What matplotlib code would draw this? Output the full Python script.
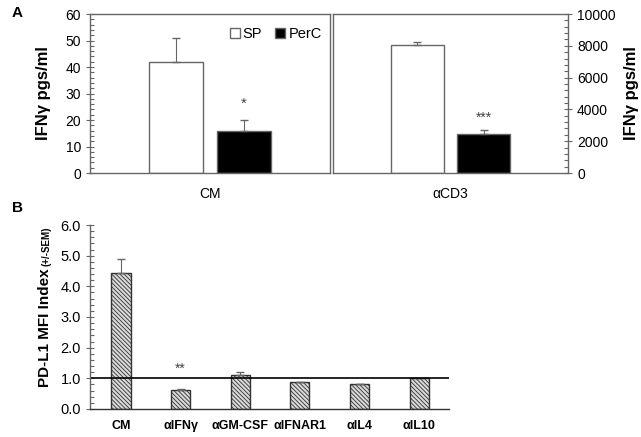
import numpy as np
import matplotlib.pyplot as plt
from matplotlib.patches import Patch
from matplotlib.ticker import MultipleLocator

plt.rcParams['font.family'] = ['Liberation Sans', 'DejaVu Sans']
plt.rcParams['hatch.linewidth'] = 0.6

# Panel A data
groups = ['SP', 'PerC']
cm_vals = [42, 16]
cm_err = [9, 4]
cd3_vals = [8050, 2450]
cd3_err = [200, 250]

# Panel B data
b_labels = ['CM', 'αIFNγ', 'αGM-CSF', 'αIFNAR1', 'αIL4', 'αIL10']
b_vals = [4.42, 0.62, 1.1, 0.88, 0.83, 1.02]
b_err = [0.48, 0.03, 0.12, 0.0, 0.0, 0.0]

grey = '#666666'
fig = plt.figure(figsize=(6.41, 4.37), dpi=100)

def style_axis(ax, side='left'):
    for s in ax.spines.values():
        s.set_color(grey)
        s.set_linewidth(1.0)
    ax.tick_params(axis='y', which='major', direction='inout', length=6, color=grey,
                   labelsize=10, width=0.8)
    ax.tick_params(axis='y', which='minor', direction='in', length=3, color=grey, width=0.8)
    ax.tick_params(axis='x', length=0, labelsize=10, pad=10)
    if side == 'right':
        ax.yaxis.tick_right()
        ax.yaxis.set_label_position('right')
        ax.yaxis.set_ticks_position('right')

x = np.array([-0.17, 0.17])
w = 0.27

# left panel
axl = fig.add_axes([0.1404, 0.6041, 0.3744, 0.3638])
axl.bar(x, cm_vals, width=w, color=['white', 'black'], edgecolor=grey, linewidth=1)
axl.errorbar(x, cm_vals, yerr=[[0, 0], cm_err], fmt='none', ecolor=grey, elinewidth=0.8, capsize=3)
axl.set_xlim(-0.6, 0.6)
axl.set_ylim(0, 60)
axl.yaxis.set_major_locator(MultipleLocator(10))
axl.yaxis.set_minor_locator(MultipleLocator(2))
axl.set_xticks([0])
axl.set_xticklabels(['CM'])
style_axis(axl)
axl.set_ylabel('IFNγ pgs/ml', fontsize=12, fontweight='bold', labelpad=10)
axl.text(x[1], 26, '*', ha='center', va='center', fontsize=11, color='#444444')
handles = [Patch(facecolor='white', edgecolor=grey, label='SP'),
           Patch(facecolor='black', edgecolor=grey, label='PerC')]
axl.legend(handles=handles, ncol=2, frameon=False, loc='upper right', bbox_to_anchor=(1.02, 1.0),
           handlelength=0.7, handleheight=0.7, handletextpad=0.2, columnspacing=0.9, fontsize=10.5)

# right panel
axr = fig.add_axes([0.5195, 0.6041, 0.3666, 0.3638])
axr.bar(x, cd3_vals, width=w, color=['white', 'black'], edgecolor=grey, linewidth=1)
axr.errorbar(x, cd3_vals, yerr=[[0, 0], cd3_err], fmt='none', ecolor=grey, elinewidth=0.8, capsize=3)
axr.set_xlim(-0.6, 0.6)
axr.set_ylim(0, 10000)
axr.yaxis.set_major_locator(MultipleLocator(2000))
axr.yaxis.set_minor_locator(MultipleLocator(400))
axr.set_xticks([0])
axr.set_xticklabels(['αCD3'])
style_axis(axr, 'right')
axr.set_ylabel('IFNγ pgs/ml', fontsize=12, fontweight='bold', labelpad=6)
axr.text(x[1], 3500, '***', ha='center', va='center', fontsize=10, color='#444444')

# panel B
axb = fig.add_axes([0.1404, 0.0641, 0.560, 0.421])
xb = np.arange(len(b_labels))
axb.bar(xb, b_vals, width=0.32, color='#d9d9d9', edgecolor='#333333', linewidth=1,
        hatch='\\\\\\\\\\\\\\\\')
axb.errorbar(xb, b_vals, yerr=[np.zeros(len(b_err)), b_err], fmt='none', ecolor=grey,
             elinewidth=0.8, capsize=3)
axb.axhline(1.0, color='black', linewidth=1.2)
axb.set_xlim(-0.52, 5.5)
axb.set_ylim(0, 6)
axb.yaxis.set_major_locator(MultipleLocator(1))
axb.yaxis.set_minor_locator(MultipleLocator(0.2))
axb.yaxis.set_major_formatter('{x:.1f}')
axb.set_xticks(xb)
style_axis(axb)
axb.set_xticklabels(b_labels, fontweight='bold', fontsize=9)
axb.spines['top'].set_visible(False)
axb.spines['right'].set_visible(False)
axb.spines['bottom'].set_color('#333333')
axb.tick_params(axis='y', labelsize=10.5)
axb.tick_params(axis='x', pad=8, labelsize=9)
axb.text(xb[1], 1.32, '**', ha='center', va='center', fontsize=10, color='#444444')

# y label of B: main text plus a smaller "(+/-SEM)" stacked above it
main = fig.text(0.070, 0.114, 'PD-L1 MFI Index', rotation=90, ha='center', va='bottom',
                fontsize=11, fontweight='bold')
fig.canvas.draw()
bb = main.get_window_extent().transformed(fig.transFigure.inverted())
fig.text(0.072, bb.y1 + 0.006, '(+/-SEM)', rotation=90, ha='center', va='bottom',
         fontsize=7, fontweight='bold')

fig.text(0.018, 0.97, 'A', fontsize=11, fontweight='bold', va='center')
fig.text(0.018, 0.524, 'B', fontsize=11, fontweight='bold', va='center')

fig.savefig('out.png', dpi=100)
